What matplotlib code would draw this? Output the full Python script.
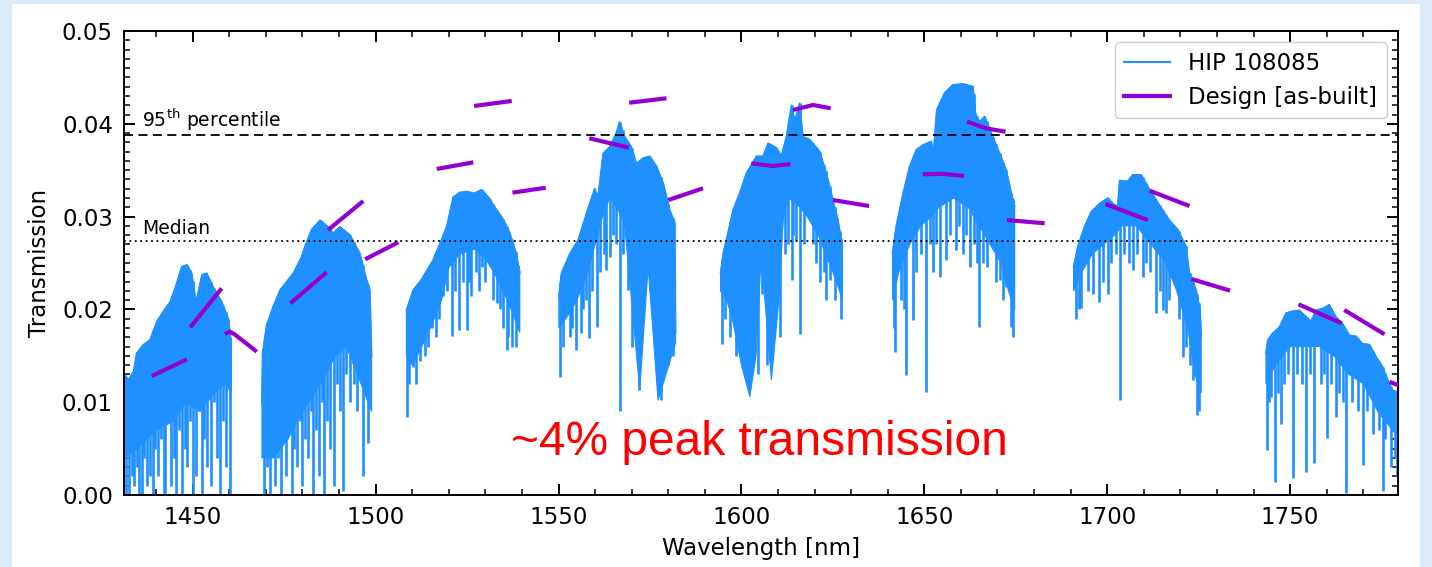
import numpy as np
import matplotlib.pyplot as plt
from matplotlib.patches import Rectangle
from matplotlib.lines import Line2D
from matplotlib.ticker import MultipleLocator

# --- HIP 108085 spectrum, one entry per order ---
# upper envelope of the dense spectrum
order_top_wl = [
    [1431.2, 1432.4, 1433.8, 1434.7, 1436.5, 1438.3, 1440.2, 1442.0, 1443.8, 1445.2, 1447.0, 1448.4,
     1449.7, 1450.9, 1452.5, 1453.8, 1455.6, 1457.9, 1459.7, 1460.4, 1460.5],
    [1468.9, 1469.1, 1470.2, 1472.0, 1473.9, 1475.7, 1477.5, 1479.8, 1480.7, 1482.5, 1484.8, 1487.0,
     1488.4, 1490.2, 1493.0, 1495.7, 1497.5, 1498.4, 1498.9],
    [1508.4, 1510.3, 1512.5, 1515.7, 1518.0, 1519.5, 1521.2, 1523.0, 1524.9, 1527.0, 1529.0, 1531.0,
     1533.1, 1535.0, 1536.7, 1538.3, 1539.4],
    [1550.1, 1550.8, 1553.1, 1555.4, 1557.7, 1559.9, 1560.8, 1562.2, 1564.0, 1565.8, 1566.7, 1568.1,
     1569.9, 1571.3, 1573.1, 1574.9, 1576.8, 1578.6, 1580.4, 1581.8, 1582.0],
    [1594.3, 1595.0, 1596.3, 1597.7, 1599.5, 1601.4, 1604.1, 1605.9, 1607.3, 1609.6, 1610.9, 1612.3,
     1613.7, 1614.6, 1615.9, 1616.8, 1618.7, 1621.4, 1623.2, 1625.0, 1626.4, 1627.6],
    [1641.3, 1642.3, 1644.2, 1646.0, 1647.8, 1649.6, 1651.9, 1652.5, 1653.4, 1655.5, 1657.8, 1660.6,
     1663.3, 1664.0, 1665.1, 1666.5, 1668.7, 1670.6, 1672.4, 1673.8, 1674.7],
    [1690.8, 1692.0, 1693.8, 1695.6, 1697.9, 1700.2, 1701.5, 1702.9, 1703.4, 1705.6, 1707.0, 1709.3,
     1711.6, 1713.4, 1714.8, 1717.0, 1719.3, 1721.5, 1722.5, 1724.3, 1725.4, 1725.7],
    [1743.4, 1743.9, 1745.2, 1747.1, 1748.9, 1750.7, 1752.5, 1754.4, 1755.7, 1757.1, 1758.9, 1760.7,
     1762.5, 1764.3, 1766.2, 1768.0, 1769.8, 1771.7, 1773.5, 1775.3, 1776.7, 1778.0, 1780.0],
]
order_top_T = [
    [0.0131, 0.0124, 0.0133, 0.0153, 0.0162, 0.0167, 0.0187, 0.0198, 0.0208, 0.0223, 0.0246, 0.0248,
     0.0239, 0.0207, 0.0237, 0.0239, 0.0224, 0.0208, 0.0190, 0.0167, 0.0117],
    [0.0100, 0.0153, 0.0183, 0.0203, 0.0221, 0.0230, 0.0239, 0.0257, 0.0268, 0.0286, 0.0296, 0.0289,
     0.0282, 0.0289, 0.0280, 0.0260, 0.0232, 0.0221, 0.0150],
    [0.0199, 0.0221, 0.0232, 0.0253, 0.0275, 0.0290, 0.0321, 0.0326, 0.0327, 0.0325, 0.0329, 0.0320,
     0.0307, 0.0296, 0.0282, 0.0262, 0.0240],
    [0.0214, 0.0239, 0.0260, 0.0275, 0.0304, 0.0330, 0.0321, 0.0368, 0.0375, 0.0390, 0.0402, 0.0386,
     0.0375, 0.0357, 0.0363, 0.0365, 0.0354, 0.0336, 0.0307, 0.0293, 0.0175],
    [0.0239, 0.0260, 0.0282, 0.0307, 0.0325, 0.0347, 0.0365, 0.0365, 0.0379, 0.0374, 0.0365, 0.0386,
     0.0420, 0.0402, 0.0422, 0.0386, 0.0383, 0.0370, 0.0347, 0.0318, 0.0296, 0.0268],
    [0.0260, 0.0289, 0.0325, 0.0354, 0.0372, 0.0377, 0.0381, 0.0368, 0.0415, 0.0433, 0.0442, 0.0443,
     0.0440, 0.0411, 0.0402, 0.0408, 0.0386, 0.0368, 0.0350, 0.0325, 0.0311],
    [0.0246, 0.0268, 0.0289, 0.0305, 0.0314, 0.0320, 0.0314, 0.0311, 0.0339, 0.0338, 0.0345, 0.0345,
     0.0329, 0.0318, 0.0309, 0.0296, 0.0286, 0.0268, 0.0239, 0.0221, 0.0199, 0.0171],
    [0.0153, 0.0167, 0.0174, 0.0181, 0.0196, 0.0198, 0.0199, 0.0192, 0.0187, 0.0199, 0.0201, 0.0205,
     0.0192, 0.0185, 0.0172, 0.0171, 0.0163, 0.0162, 0.0149, 0.0138, 0.0124, 0.0113, 0.0110],
]
# lower edge of the solid part of the spectrum
order_low_wl = [
    [1431.2, 1435.0, 1440.0, 1445.0, 1448.0, 1452.0, 1456.0, 1459.0, 1460.5],
    [1468.9, 1472.0, 1476.0, 1480.0, 1485.0, 1489.0, 1492.0, 1495.0, 1498.9],
    [1508.4, 1510.0, 1512.0, 1515.0, 1518.0, 1520.0, 1523.0, 1527.0, 1530.0, 1533.0, 1536.0, 1538.0, 1539.4],
    [1550.1, 1552.0, 1555.0, 1558.0, 1560.0, 1562.0, 1564.0, 1566.0, 1568.1, 1572.2, 1574.5, 1577.2, 1582.0],
    [1594.3, 1596.0, 1597.5, 1600.0, 1602.3, 1604.0, 1605.3, 1606.2, 1608.2, 1610.0, 1611.5, 1613.0,
     1616.0, 1618.0, 1621.0, 1624.0, 1626.0, 1627.6],
    [1641.3, 1643.0, 1646.0, 1649.0, 1652.0, 1654.0, 1658.0, 1662.0, 1665.0, 1668.0, 1671.0, 1673.0, 1674.7],
    [1690.8, 1693.0, 1696.0, 1699.0, 1702.0, 1704.0, 1708.0, 1712.0, 1716.0, 1719.0, 1722.0, 1724.0, 1725.7],
    [1743.4, 1746.0, 1750.0, 1754.0, 1758.0, 1762.0, 1766.0, 1770.0, 1774.0, 1778.0, 1780.0],
]
order_low_T = [
    [0.004, 0.005, 0.007, 0.008, 0.010, 0.009, 0.011, 0.012, 0.011],
    [0.004, 0.004, 0.006, 0.009, 0.012, 0.015, 0.016, 0.013, 0.009],
    [0.0150, 0.0140, 0.0155, 0.0180, 0.0210, 0.0245, 0.0260, 0.0265, 0.0255, 0.0235, 0.0210, 0.0190, 0.0175],
    [0.018, 0.019, 0.021, 0.024, 0.027, 0.030, 0.032, 0.031, 0.029, 0.0113, 0.0246, 0.0102, 0.0164],
    [0.022, 0.021, 0.019, 0.014, 0.0106, 0.015, 0.025, 0.022, 0.0124, 0.020, 0.030, 0.032,
     0.031, 0.030, 0.028, 0.025, 0.023, 0.021],
    [0.021, 0.024, 0.027, 0.029, 0.030, 0.031, 0.032, 0.031, 0.029, 0.027, 0.025, 0.022, 0.020],
    [0.022, 0.024, 0.026, 0.027, 0.028, 0.029, 0.029, 0.027, 0.025, 0.022, 0.018, 0.013, 0.011],
    [0.012, 0.014, 0.016, 0.016, 0.016, 0.015, 0.013, 0.012, 0.009, 0.007, 0.006],
]
# absorption lines: wavelength and bottom of the line
line_wl = [
    [1431.8, 1432.5, 1433.3, 1434.0, 1434.8, 1435.4, 1436.0, 1436.8, 1437.5, 1438.2, 1439.0, 1439.7,
     1440.5, 1441.2, 1442.0, 1442.5, 1443.5, 1444.0, 1444.8, 1445.5, 1446.2, 1447.0, 1447.8, 1448.5,
     1449.2, 1450.0, 1451.0, 1451.7, 1452.5, 1453.2, 1454.0, 1455.0, 1455.8, 1456.5, 1457.5, 1458.2,
     1459.0, 1459.7, 1460.3],
    [1469.5, 1470.2, 1471.0, 1471.8, 1472.5, 1473.2, 1474.0, 1474.8, 1475.5, 1476.2, 1477.0, 1477.8,
     1478.5, 1479.2, 1480.0, 1480.8, 1481.5, 1482.2, 1483.0, 1483.8, 1484.5, 1485.2, 1486.0, 1486.8,
     1487.5, 1488.5, 1489.5, 1490.3, 1491.1, 1492.0, 1493.0, 1494.0, 1495.0, 1496.5, 1497.9],
    [1508.5, 1509.2, 1510.3, 1511.0, 1512.1, 1513.5, 1514.3, 1515.3, 1516.5, 1517.2, 1518.3, 1519.5,
     1520.9, 1521.8, 1522.8, 1523.8, 1524.9, 1525.5, 1526.2, 1527.5, 1528.2, 1529.0, 1530.0, 1531.2,
     1532.0, 1533.1, 1534.0, 1534.8, 1535.8, 1536.3, 1537.2, 1538.3, 1539.0],
    [1550.5, 1551.2, 1552.2, 1553.0, 1553.8, 1554.9, 1556.1, 1556.8, 1557.5, 1558.4, 1559.2, 1560.5,
     1561.2, 1562.5, 1563.1, 1564.2, 1565.0, 1565.8, 1566.7, 1567.5, 1569.0, 1570.0, 1572.0, 1575.0,
     1577.9, 1580.0, 1581.2],
    [1594.8, 1595.5, 1596.6, 1597.0, 1598.5, 1604.5, 1605.5, 1607.0, 1610.5, 1611.8, 1612.8, 1613.7,
     1614.2, 1615.0, 1615.9, 1617.2, 1618.2, 1619.5, 1620.3, 1621.4, 1622.5, 1623.0, 1624.1, 1625.5,
     1626.9, 1627.2],
    [1641.8, 1642.1, 1643.5, 1644.5, 1645.1, 1646.9, 1647.8, 1649.0, 1650.5, 1651.5, 1652.5, 1653.2,
     1654.4, 1656.0, 1657.0, 1658.7, 1659.5, 1660.6, 1661.5, 1662.4, 1663.5, 1664.3, 1665.0, 1666.0,
     1667.0, 1668.7, 1669.5, 1670.6, 1671.5, 1672.4, 1673.8, 1674.2],
    [1691.5, 1692.4, 1692.9, 1694.8, 1696.1, 1697.7, 1698.8, 1700.2, 1701.0, 1702.3, 1703.5, 1704.5,
     1706.0, 1707.0, 1708.2, 1709.7, 1710.5, 1711.8, 1713.4, 1714.3, 1715.2, 1716.1, 1717.0, 1718.1,
     1719.5, 1720.7, 1721.5, 1722.5, 1723.4, 1724.5, 1725.0],
    [1743.6, 1744.2, 1744.8, 1745.9, 1746.6, 1747.5, 1748.3, 1749.5, 1750.7, 1752.0, 1753.2, 1754.4,
     1755.5, 1756.6, 1758.5, 1759.3, 1760.0, 1761.2, 1762.5, 1763.5, 1764.5, 1765.3, 1767.0, 1768.5,
     1769.8, 1771.0, 1772.6, 1774.2, 1775.3, 1776.0, 1777.6, 1778.8, 1779.3],
]
line_T = [
    [0.000, 0.000, 0.002, 0.001, 0.003, 0.000, 0.000, 0.004, 0.001, 0.002, 0.000, 0.005,
     0.002, 0.006, 0.000, 0.000, 0.010, 0.001, 0.004, 0.000, 0.007, 0.000, 0.005, 0.003,
     0.008, 0.000, 0.002, 0.009, 0.000, 0.006, 0.003, 0.001, 0.010, 0.004, 0.000, 0.008,
     0.003, 0.012, 0.000],
    [0.000, 0.003, 0.000, 0.005, 0.001, 0.004, 0.000, 0.006, 0.002, 0.007, 0.000, 0.005,
     0.003, 0.008, 0.001, 0.006, 0.004, 0.009, 0.000, 0.007, 0.002, 0.010, 0.000, 0.008,
     0.005, 0.001, 0.012, 0.009, 0.0004, 0.013, 0.010, 0.012, 0.009, 0.002, 0.0056],
    [0.0084, 0.012, 0.0138, 0.012, 0.0144, 0.015, 0.016, 0.0180, 0.017, 0.019, 0.0214, 0.022,
     0.0171, 0.022, 0.0178, 0.023, 0.0178, 0.023, 0.0214, 0.024, 0.022, 0.0246, 0.023, 0.0253,
     0.021, 0.0207, 0.020, 0.018, 0.0156, 0.017, 0.0160, 0.016, 0.0181],
    [0.0127, 0.016, 0.0196, 0.017, 0.018, 0.0156, 0.0175, 0.020, 0.021, 0.0169, 0.022, 0.0181,
     0.024, 0.026, 0.0242, 0.0257, 0.028, 0.027, 0.0090, 0.026, 0.0221, 0.016, 0.0113, 0.022,
     0.0102, 0.014, 0.015],
    [0.0163, 0.019, 0.0217, 0.017, 0.015, 0.013, 0.0217, 0.014, 0.017, 0.026, 0.027, 0.0232,
     0.028, 0.0275, 0.0174, 0.027, 0.0310, 0.027, 0.025, 0.0230, 0.024, 0.021, 0.0232, 0.021,
     0.0230, 0.019],
    [0.018, 0.0154, 0.021, 0.020, 0.0129, 0.0189, 0.024, 0.026, 0.0111, 0.027, 0.024, 0.027,
     0.0235, 0.0253, 0.028, 0.0264, 0.029, 0.0260, 0.028, 0.0246, 0.027, 0.025, 0.0181, 0.025,
     0.0246, 0.0268, 0.023, 0.0232, 0.021, 0.0224, 0.0181, 0.017],
    [0.019, 0.020, 0.0201, 0.022, 0.0217, 0.0208, 0.023, 0.0217, 0.025, 0.026, 0.0102, 0.026,
     0.025, 0.0242, 0.026, 0.0235, 0.025, 0.024, 0.0196, 0.022, 0.0199, 0.0196, 0.021, 0.0239,
     0.019, 0.0149, 0.016, 0.014, 0.0124, 0.0086, 0.009],
    [0.0048, 0.010, 0.0106, 0.0014, 0.011, 0.0077, 0.012, 0.013, 0.0018, 0.013, 0.012, 0.0025,
     0.013, 0.0034, 0.012, 0.013, 0.0061, 0.012, 0.0084, 0.011, 0.010, 0.0002, 0.010, 0.009,
     0.0032, 0.009, 0.0066, 0.007, 0.0004, 0.006, 0.0030, 0.004, 0.002],
]

# --- design (as-built) transmission segments ---
design_wl = [
    [1438.8, 1448.4], [1449.3, 1457.9], [1458.8, 1460.2, 1461.5, 1467.5],
    [1476.7, 1486.6], [1487.0, 1496.6], [1497.1, 1506.2],
    [1516.7, 1526.7], [1526.9, 1537.2], [1537.4, 1546.5],
    [1558.4, 1569.2], [1569.3, 1579.5], [1580.0, 1589.5],
    [1602.7, 1608.6, 1613.4], [1614.1, 1619.6, 1624.4], [1625.0, 1634.9],
    [1649.6, 1655.2, 1660.8], [1661.7, 1667.0, 1672.2], [1672.6, 1682.9],
    [1699.5, 1711.1], [1711.6, 1722.5], [1723.0, 1733.6],
    [1752.3, 1764.1], [1764.8, 1775.8], [1777.2, 1781.0],
]
design_T = [
    [0.01282, 0.01462], [0.01807, 0.02227], [0.01735, 0.01760, 0.01730, 0.01544],
    [0.02066, 0.02400], [0.02856, 0.03168], [0.02540, 0.02723],
    [0.03513, 0.03585], [0.04192, 0.04246], [0.03258, 0.03311],
    [0.03844, 0.03743], [0.04227, 0.04275], [0.03179, 0.03305],
    [0.03574, 0.03545, 0.03567], [0.04149, 0.04203, 0.04167], [0.03179, 0.03114],
    [0.03456, 0.03460, 0.03438], [0.04023, 0.03950, 0.03915], [0.02963, 0.02928],
    [0.03136, 0.02963], [0.03279, 0.03114], [0.02328, 0.02202],
    [0.02055, 0.01850], [0.01994, 0.01732], [0.01220, 0.01160],
]

p95 = 0.0388
median = 0.02737

blue = '#1E90FF'
purple = '#9400D3'

fig = plt.figure(figsize=(14.32, 5.67), dpi=100)
fig.patch.set_facecolor('#dce9f6')
fig.patches.append(Rectangle((12 / 1432, 0), 1408 / 1432, 1 - 4 / 567,
                             transform=fig.transFigure, facecolor='white',
                             edgecolor='none', zorder=-10))
ax = fig.add_axes([124 / 1432, 72 / 567, 1274 / 1432, 464 / 567])

for i in range(len(order_top_wl)):
    tw, tt = np.array(order_top_wl[i]), np.array(order_top_T[i])
    lw_, lt = np.array(order_low_wl[i]), np.array(order_low_T[i])
    ax.fill(np.concatenate([tw, lw_[::-1]]), np.concatenate([tt, lt[::-1]]),
            facecolor=blue, edgecolor=blue, lw=0.8, zorder=2)
    ax.plot(tw, tt, color=blue, lw=1.2, zorder=2)
    lx = np.array(line_wl[i])
    ax.vlines(lx, line_T[i], np.interp(lx, tw, tt), color=blue, lw=1.9, zorder=2)

for w, t in zip(design_wl, design_T):
    ax.plot(w, t, color=purple, lw=3, solid_capstyle='butt', zorder=3)

ax.axhline(p95, color='black', ls=(0, (5, 3)), lw=1.3, zorder=4)
ax.axhline(median, color='black', ls=(0, (1, 2)), lw=1.3, zorder=4)
ax.text(1436.2, p95 + 0.0002, r'95$^{\mathrm{th}}$ percentile', fontsize=13.5, va='bottom')
ax.text(1436.2, median + 0.0003, 'Median', fontsize=13.5, va='bottom')

ax.text(1605, 0.0057, '~4% peak transmission', color='red', fontsize=34.5,
        family='Liberation Sans', ha='center', va='center')

ax.set_xlim(1431.2, 1779.5)
ax.set_ylim(0, 0.05)
ax.xaxis.set_major_locator(MultipleLocator(50))
ax.xaxis.set_minor_locator(MultipleLocator(10))
ax.yaxis.set_major_locator(MultipleLocator(0.01))
ax.yaxis.set_minor_locator(MultipleLocator(0.001))
ax.tick_params(which='both', direction='in', top=True, right=True, labelsize=16.5)
ax.tick_params(which='major', length=8, width=1.4)
ax.tick_params(which='minor', length=4, width=1.1)
ax.tick_params(axis='y', which='major', pad=8)
ax.tick_params(axis='x', which='major', pad=8)
for s in ax.spines.values():
    s.set_linewidth(1.4)
ax.set_xlabel('Wavelength [nm]', fontsize=16.5, labelpad=6)
ax.set_ylabel('Transmission', fontsize=16.5, labelpad=8)

handles = [Line2D([], [], color=blue, lw=1.5), Line2D([], [], color=purple, lw=3)]
ax.legend(handles, ['HIP 108085', 'Design [as-built]'], loc='upper right', fontsize=16.5,
          framealpha=1, borderaxespad=0.5)

fig.savefig('out.png', dpi=100, facecolor=fig.get_facecolor())
